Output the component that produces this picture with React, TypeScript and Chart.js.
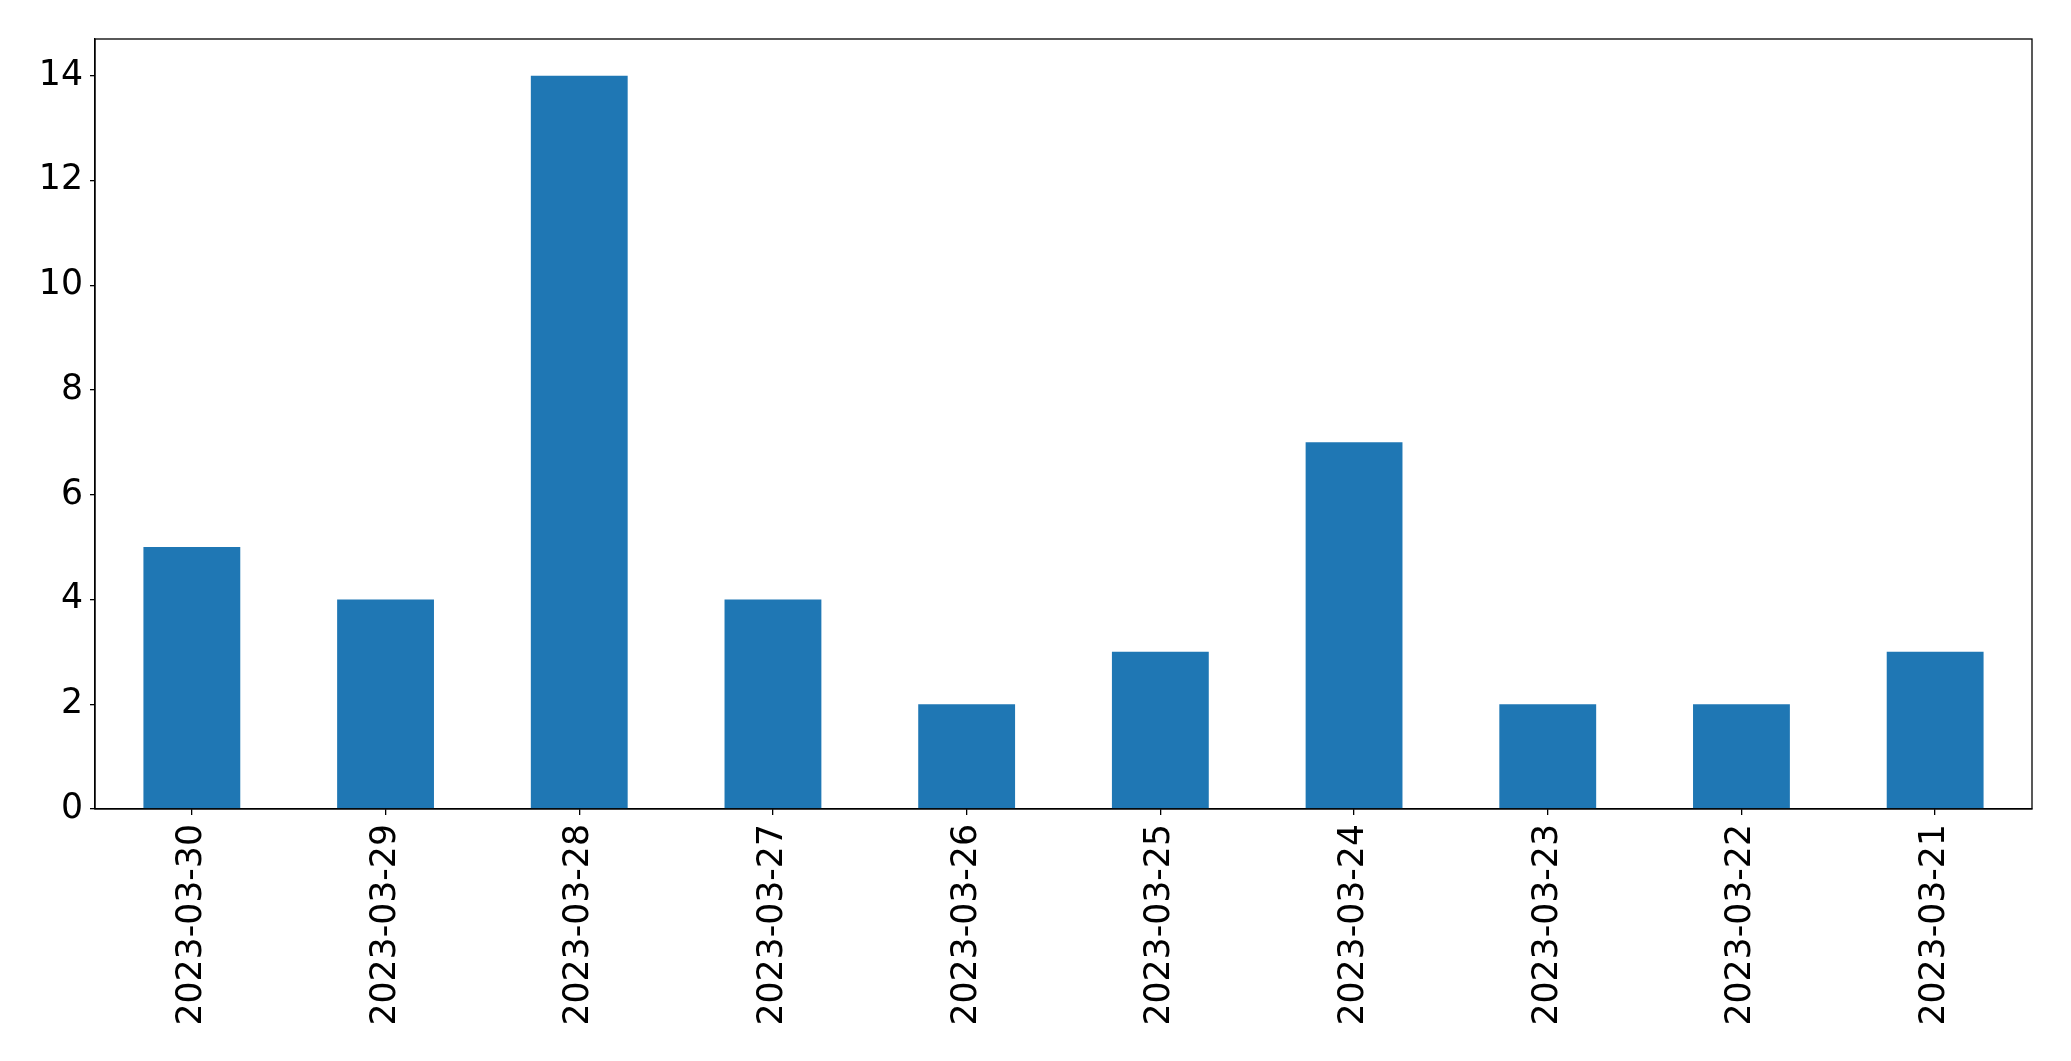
import React, { useEffect, useRef } from "react";
import { Chart, registerables } from "chart.js";

Chart.register(...registerables);

const categories = [
  "2023-03-30",
  "2023-03-29",
  "2023-03-28",
  "2023-03-27",
  "2023-03-26",
  "2023-03-25",
  "2023-03-24",
  "2023-03-23",
  "2023-03-22",
  "2023-03-21",
];
const counts = [5, 4, 14, 4, 2, 3, 7, 2, 2, 3];
const yTicks = [0, 2, 4, 6, 8, 10, 12, 14];
const yMax = 14.7;

const W = 2071;
const H = 1061;

const framePlugin = {
  id: "frame",
  afterDraw(chart: any) {
    const { ctx, chartArea } = chart;
    ctx.save();
    ctx.strokeStyle = "#000";
    ctx.lineWidth = 1.3;
    ctx.strokeRect(chartArea.left, chartArea.top, chartArea.right - chartArea.left, chartArea.bottom - chartArea.top);
    ctx.restore();
  },
};

export default function App() {
  const ref = useRef<HTMLCanvasElement | null>(null);
  useEffect(() => {
    if (!ref.current) return;
    const font = { family: "'DejaVu Sans', sans-serif", size: 34.7 };
    const chart = new Chart(ref.current, {
      type: "bar",
      data: {
        labels: categories,
        datasets: [
          {
            data: counts,
            backgroundColor: "#1f77b4",
            borderWidth: 0,
            barPercentage: 0.5,
            categoryPercentage: 1.0,
          },
        ],
      },
      options: {
        responsive: false,
        animation: false,
        devicePixelRatio: 1,
        layout: { padding: { top: 39, right: 39, left: 0, bottom: 0 } },
        plugins: { legend: { display: false }, tooltip: { enabled: false } },
        scales: {
          x: {
            offset: true,
            grid: {
              offset: false,
              drawOnChartArea: false,
              drawTicks: true,
              tickLength: 6,
              color: "#000",
              lineWidth: 1.3,
            },
            border: { display: true, color: "#000", width: 1.3 },
            ticks: {
              color: "#000",
              font,
              minRotation: 90,
              maxRotation: 90,
              autoSkip: false,
              padding: 9,
            },
            afterFit(scale: any) {
              scale.height = 252;
            },
          },
          y: {
            min: 0,
            max: yMax,
            grid: {
              drawOnChartArea: false,
              drawTicks: true,
              tickLength: 5,
              color: "#000",
              lineWidth: 1.3,
            },
            border: { display: true, color: "#000", width: 1.3 },
            ticks: {
              color: "#000",
              font,
              padding: 7,
            },
            afterBuildTicks(scale: any) {
              scale.ticks = yTicks.map((v) => ({ value: v }));
            },
            afterFit(scale: any) {
              scale.width = 95;
            },
          },
        },
      },
      plugins: [framePlugin],
    });
    return () => chart.destroy();
  }, []);
  return (
    <div style={{ position: "fixed", left: 0, top: 0, width: W, height: H, background: "#fff" }}>
      <canvas ref={ref} width={W} height={H} style={{ display: "block" }} />
    </div>
  );
}
